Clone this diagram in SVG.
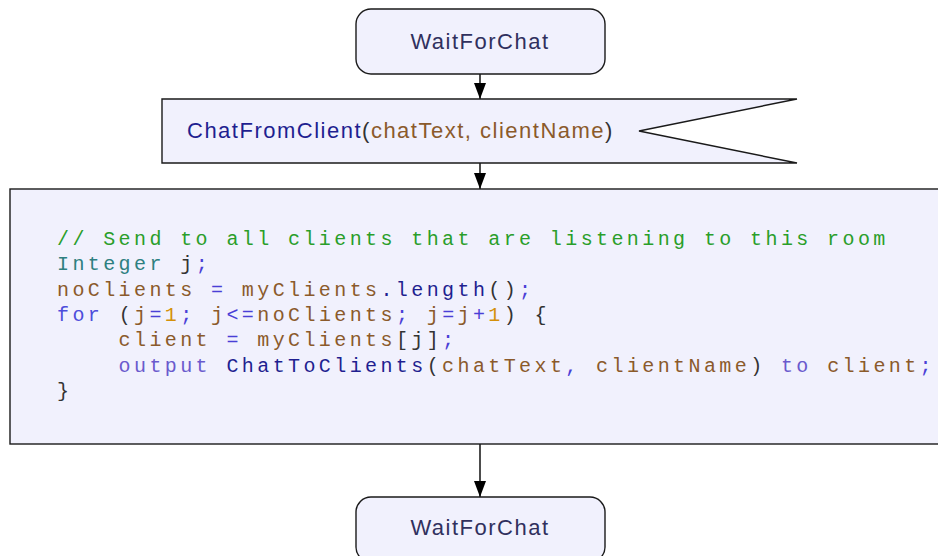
<svg xmlns="http://www.w3.org/2000/svg" width="938" height="556" viewBox="0 0 938 556">
  <defs>
    <marker id="arrow" markerWidth="16" markerHeight="12" refX="16" refY="6" orient="auto" markerUnits="userSpaceOnUse">
      <path d="M0,0 L16,6 L0,12 Z" fill="#000"/>
    </marker>
    <style>
      .shape { fill: #f1f1fd; stroke: #1a1a1a; stroke-width: 1.4; }
      .label { font-family: "Liberation Sans", Arial, sans-serif; font-size: 22px; letter-spacing: 1.5px; }
      .state { fill: #30305e; }
      .code { font-family: "Liberation Mono", "Courier New", monospace; font-size: 20px; letter-spacing: 3.4px; white-space: pre; fill: #333; }
      .cm { fill: #2a9e2a; }
      .ty { fill: #2e8080; }
      .id { fill: #8b5a2b; }
      .op { fill: #4a3fd6; }
      .fn { fill: #1f1f90; }
      .kw { fill: #4d4ddb; }
      .kw2 { fill: #6a5acd; }
      .num { fill: #d4900a; }
      .pn { fill: #333; }
      .conn { stroke: #000; stroke-width: 1.4; fill: none; marker-end: url(#arrow); }
    </style>
  </defs>

  <!-- connectors -->
  <g id="connectors">
    <line class="conn" x1="480" y1="74" x2="480" y2="99"/>
    <line class="conn" x1="480" y1="163" x2="480" y2="189"/>
    <line class="conn" x1="480" y1="444" x2="480" y2="497"/>
  </g>

  <!-- start state -->
  <g id="state-wait-top">
    <rect class="shape" x="356" y="9" width="249" height="65" rx="15" ry="15"/>
    <text class="label state" x="480" y="49" text-anchor="middle">WaitForChat</text>
  </g>

  <!-- input signal -->
  <g id="input-chat-from-client">
    <path class="shape" d="M162,99 L797,99 L639,131 L797,163 L162,163 Z"/>
    <text class="label" x="187" y="138"><tspan class="fn">ChatFromClient</tspan><tspan class="pn">(</tspan><tspan class="id">chatText, clientName</tspan><tspan class="pn">)</tspan></text>
  </g>

  <!-- task block -->
  <g id="task-broadcast">
    <rect class="shape" x="10" y="189" width="940" height="255"/>
    <text class="code" x="57" y="245"><tspan class="cm">// Send to all clients that are listening to this room</tspan></text>
    <text class="code" x="57" y="270"><tspan class="ty">Integer</tspan> <tspan class="pn">j</tspan><tspan class="op">;</tspan></text>
    <text class="code" x="57" y="296"><tspan class="id">noClients</tspan> <tspan class="op">=</tspan> <tspan class="id">myClients</tspan><tspan class="fn">.length</tspan><tspan class="pn">()</tspan><tspan class="op">;</tspan></text>
    <text class="code" x="57" y="321"><tspan class="kw">for</tspan> <tspan class="pn">(</tspan><tspan class="id">j</tspan><tspan class="op">=</tspan><tspan class="num">1</tspan><tspan class="op">;</tspan> <tspan class="id">j</tspan><tspan class="op">&lt;=</tspan><tspan class="id">noClients</tspan><tspan class="op">;</tspan> <tspan class="id">j</tspan><tspan class="op">=</tspan><tspan class="id">j</tspan><tspan class="op">+</tspan><tspan class="num">1</tspan><tspan class="pn">)</tspan> <tspan class="pn">{</tspan></text>
    <text class="code" x="57" y="346">    <tspan class="id">client</tspan> <tspan class="op">=</tspan> <tspan class="id">myClients</tspan><tspan class="pn">[j]</tspan><tspan class="op">;</tspan></text>
    <text class="code" x="57" y="372">    <tspan class="kw2">output</tspan> <tspan class="fn">ChatToClients</tspan><tspan class="pn">(</tspan><tspan class="id">chatText</tspan><tspan class="op">,</tspan> <tspan class="id">clientName</tspan><tspan class="pn">)</tspan> <tspan class="kw2">to</tspan> <tspan class="id">client</tspan><tspan class="op">;</tspan></text>
    <text class="code" x="57" y="397"><tspan class="pn">}</tspan></text>
  </g>

  <!-- next state -->
  <g id="state-wait-bottom">
    <rect class="shape" x="356" y="497" width="249" height="65" rx="15" ry="15"/>
    <text class="label state" x="480" y="535" text-anchor="middle">WaitForChat</text>
  </g>
</svg>
